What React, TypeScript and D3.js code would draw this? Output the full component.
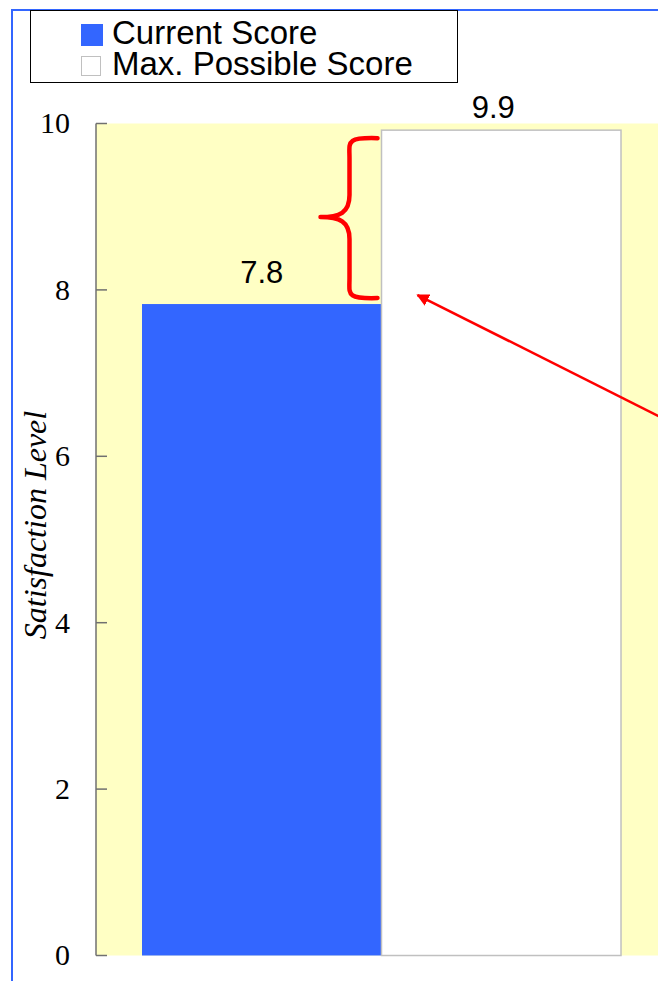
import React from "react";
import * as d3 from "d3";

const seriesNames = ["Current Score", "Max. Possible Score"];
const seriesValues = [7.83, 9.92];
const seriesColors = ["#3366ff", "#ffffff"];
const seriesStrokes = ["none", "#c0c0c0"];
const yTicks = [0, 2, 4, 6, 8, 10];
const yTitle = "Satisfaction Level";

const W = 658;
const H = 981;

export default function App() {
  const plotLeft = 96;
  const plotRight = 667;
  const plotTop = 123.5;
  const plotBottom = 955.5;

  const y = d3.scaleLinear().domain([0, 10]).range([plotBottom, plotTop]);
  const x = d3.scaleBand<string>().domain(seriesNames).range([142, 621]).padding(0);
  const fmt = d3.format(".1f");

  // brace between the two values
  const bx0 = x(seriesNames[1])! - 4;
  const bTop = y(seriesValues[1]) + 8;
  const bBot = y(seriesValues[0]) - 6;
  const bMid = (bTop + bBot) / 2 - 1;
  const bxv = bx0 - 28;
  const bxTip = bx0 - 57;
  const brace = d3.path();
  brace.moveTo(bx0, bTop);
  brace.bezierCurveTo(bxv - 4, bTop - 1, bxv, bTop + 4, bxv, bTop + 20);
  brace.lineTo(bxv, bMid - 22);
  brace.bezierCurveTo(bxv, bMid - 4, bxv - 10, bMid, bxTip, bMid);
  brace.bezierCurveTo(bxv - 10, bMid, bxv, bMid + 4, bxv, bMid + 22);
  brace.lineTo(bxv, bBot - 20);
  brace.bezierCurveTo(bxv, bBot - 4, bxv - 4, bBot + 1, bx0, bBot);

  // arrow pointing at the gap
  const ax1 = x(seriesNames[1])! + 36;
  const ay1 = y(seriesValues[0]) - 9;
  const ax0 = 680;
  const ay0 = ay1 + (ax0 - ax1) * 0.502;

  return (
    <div style={{ position: "absolute", left: 0, top: 0 }}>
      <svg width={W} height={H} style={{ display: "block" }}>
        <defs>
          <marker id="ah" viewBox="0 0 10 10" refX="9" refY="5" markerWidth="5" markerHeight="5" orient="auto">
            <path d="M0,0 L10,5 L0,10 z" fill="#ff0000" />
          </marker>
        </defs>
        <rect x={0} y={0} width={W} height={H} fill="#ffffff" />
        {/* page border */}
        <rect x={12} y={10} width={W + 20} height={H + 20} fill="none" stroke="#3366ff" strokeWidth={2} />

        {/* legend */}
        <rect x={30.5} y={10.5} width={427} height={72} fill="#ffffff" stroke="#000000" strokeWidth={1} />
        {seriesNames.map((s, i) => (
          <g key={s}>
            <rect
              x={i === 0 ? 81 : 81.5}
              y={i === 0 ? 24 : 56.5}
              width={i === 0 ? 22 : 19}
              height={i === 0 ? 22 : 19}
              fill={seriesColors[i]}
              stroke={i === 0 ? "none" : "#c0c0c0"}
              strokeWidth={1}
            />
            <text
              x={112}
              y={44 + i * 30.5}
              fontFamily="'Liberation Sans', Arial, sans-serif"
              fontSize={33}
              fill="#000"
            >
              {s}
            </text>
          </g>
        ))}

        {/* plot area */}
        <rect x={plotLeft} y={plotTop} width={plotRight - plotLeft} height={plotBottom - plotTop} fill="#ffffc4" />

        {/* bars */}
        {seriesNames.map((s, i) => (
          <rect
            key={s}
            x={x(s)!}
            y={y(seriesValues[i])}
            width={x.bandwidth()}
            height={plotBottom - y(seriesValues[i])}
            fill={seriesColors[i]}
            stroke={seriesStrokes[i]}
            strokeWidth={1.5}
          />
        ))}

        {/* value labels */}
        {seriesNames.map((s, i) => (
          <text
            key={s}
            x={x(s)! + x.bandwidth() / 2 - (i === 1 ? 8 : 0)}
            y={Math.max(y(seriesValues[i]) - 21, 118)}
            textAnchor="middle"
            fontFamily="'Liberation Sans', Arial, sans-serif"
            fontSize={31}
            fill="#000"
          >
            {fmt(seriesValues[i])}
          </text>
        ))}

        {/* y axis */}
        <line x1={plotLeft} x2={plotLeft} y1={plotTop} y2={plotBottom} stroke="#707070" strokeWidth={1.5} />
        {yTicks.map((t) => (
          <g key={t}>
            <line x1={plotLeft} x2={plotLeft + 11} y1={y(t)} y2={y(t)} stroke="#707070" strokeWidth={1.5} />
            <text
              x={70}
              y={y(t)}
              dy="0.33em"
              textAnchor="end"
              fontFamily="'Liberation Serif', 'Times New Roman', serif"
              fontSize={30}
              fill="#000"
            >
              {t}
            </text>
          </g>
        ))}
        <text
          transform={`translate(46,525) rotate(-90)`}
          textAnchor="middle"
          fontFamily="'Liberation Serif', 'Times New Roman', serif"
          fontStyle="italic"
          fontSize={32}
          fill="#000"
        >
          {yTitle}
        </text>

        {/* annotations */}
        <path d={brace.toString()} fill="none" stroke="#ff0000" strokeWidth={4.5} strokeLinecap="round" strokeLinejoin="round" />
        <line x1={ax0} y1={ay0} x2={ax1} y2={ay1} stroke="#ff0000" strokeWidth={2.5} markerEnd="url(#ah)" />
      </svg>
    </div>
  );
}
